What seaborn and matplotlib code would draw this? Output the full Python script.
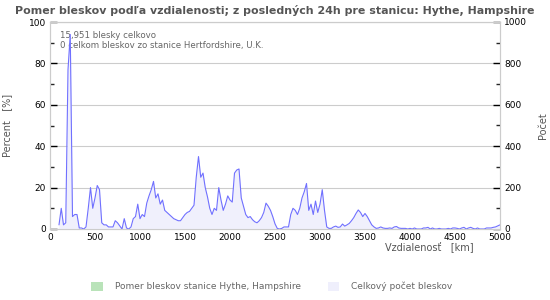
import matplotlib
matplotlib.use("Agg")
import matplotlib.pyplot as plt
from matplotlib.patches import Patch
from matplotlib.ticker import MultipleLocator
import numpy as np
import pandas as pd
import seaborn as sns

# distance bins (km) and total strike counts
km = list(range(100, 5001, 25))
counts = [20, 100, 20, 30, 770, 940, 60, 70, 70, 5, 5, 0, 10,
          100, 200, 100, 150, 210, 190, 30, 20, 20, 10, 10, 10, 40, 30, 15,
          0, 50, 5, 0, 10, 50, 60, 120, 50, 70, 60, 125, 160, 190, 230, 150,
          170, 120, 140, 90, 80, 70, 60, 50, 45, 40, 40, 55, 70, 80, 85, 100,
          115, 250, 350, 250, 270, 200, 155, 100, 70, 100, 90, 200, 140, 90,
          120, 160, 140, 130, 270, 285, 290, 150, 110, 70, 55, 60, 45, 35, 30,
          40, 55, 80, 125, 110, 90, 60, 25, 3, 0, 3, 10, 10, 10, 70, 100, 90,
          70, 100, 150, 180, 220, 90, 120, 70, 135, 80, 120, 190, 90, 10,
          3, 3, 10, 14, 8, 10, 24, 14, 20, 27, 40, 55, 75, 92, 80, 60, 75, 60,
          40, 20, 10, 3, 5, 10, 5, 3, 3, 5, 3, 10, 12, 5, 3, 3, 3, 0,
          3, 0, 5, 0, 0, 0, 5, 5, 8, 0, 5, 0, 0, 3, 0, 0, 0, 3, 0, 5, 5, 3,
          0, 5, 8, 0, 5, 8, 3, 0, 5, 0, 0, 0, 5, 5, 5, 8, 10, 15, 20]

title = "Pomer bleskov podľa vzdialenosti; z posledných 24h pre stanicu: Hythe, Hampshire"
info = ["15,951 blesky celkovo",
        "0 celkom bleskov zo stanice Hertfordshire, U.K."]
legend_labels = ["Pomer bleskov stanice Hythe, Hampshire", "Celkový počet bleskov"]

df = pd.DataFrame({"km": km, "count": counts})

sns.set_style("white")
plt.rcParams["font.family"] = ["DejaVu Sans"]
grey = "#555555"

fig = plt.figure(figsize=(5.5, 3), dpi=100)
ax = fig.add_axes([50 / 550, 71 / 300, 450 / 550, 207 / 300])
ax2 = ax.twinx()

ax2.fill_between(df["km"], df["count"], 0, color="#f0f0fc", lw=0)
sns.lineplot(data=df, x="km", y="count", ax=ax2, color="#7070ff", lw=0.8)

ax.set_xlim(0, 5000)
ax.set_ylim(0, 100)
ax2.set_ylim(0, 1000)
ax.xaxis.set_major_locator(MultipleLocator(500))
ax.xaxis.set_minor_locator(MultipleLocator(250))
ax.yaxis.set_major_locator(MultipleLocator(20))
ax.yaxis.set_minor_locator(MultipleLocator(10))
ax2.yaxis.set_major_locator(MultipleLocator(200))
ax2.yaxis.set_minor_locator(MultipleLocator(100))

for a in (ax, ax2):
    a.tick_params(which="major", direction="in", length=5, width=1,
                  labelsize=6.5, colors="black", pad=3)
    a.tick_params(which="minor", direction="in", length=3, width=1)
    for s in a.spines.values():
        s.set_color("#cccccc")
        s.set_linewidth(0.8)
ax.tick_params(axis="x", which="major", length=7)

ax.grid(axis="y", color="#cccccc", lw=0.8)
ax.set_axisbelow(True)

ax.set_ylabel("Percent   [%]", fontsize=7, color=grey)
ax.yaxis.set_label_coords(-0.085, 0.5)
ax2.set_ylabel("Počet", fontsize=7, color=grey, labelpad=8)
ax.set_xlabel("Vzdialenosť   [km]", fontsize=7, color=grey, ha="right")
ax.xaxis.set_label_coords(0.942, -0.065)
ax2.set_xlabel("")

fig.text(0.5, 0.965, title, ha="center", va="center", fontsize=7.9,
         fontweight="bold", color=grey)
ax.text(0.022, 0.955, "\n".join(info), transform=ax.transAxes, ha="left",
        va="top", fontsize=6.2, color="#666666", linespacing=1.05)

handles = [Patch(facecolor="#b9e3b9", edgecolor="none"),
           Patch(facecolor="#efeffc", edgecolor="none")]
fig.legend(handles, legend_labels, loc="center", bbox_to_anchor=(0.494, 0.045),
           ncol=2, frameon=False, fontsize=6.5, labelcolor="#666666",
           handlelength=1.3, handleheight=1.3, columnspacing=3, handletextpad=1.3)

fig.savefig("out.png", dpi=100)
